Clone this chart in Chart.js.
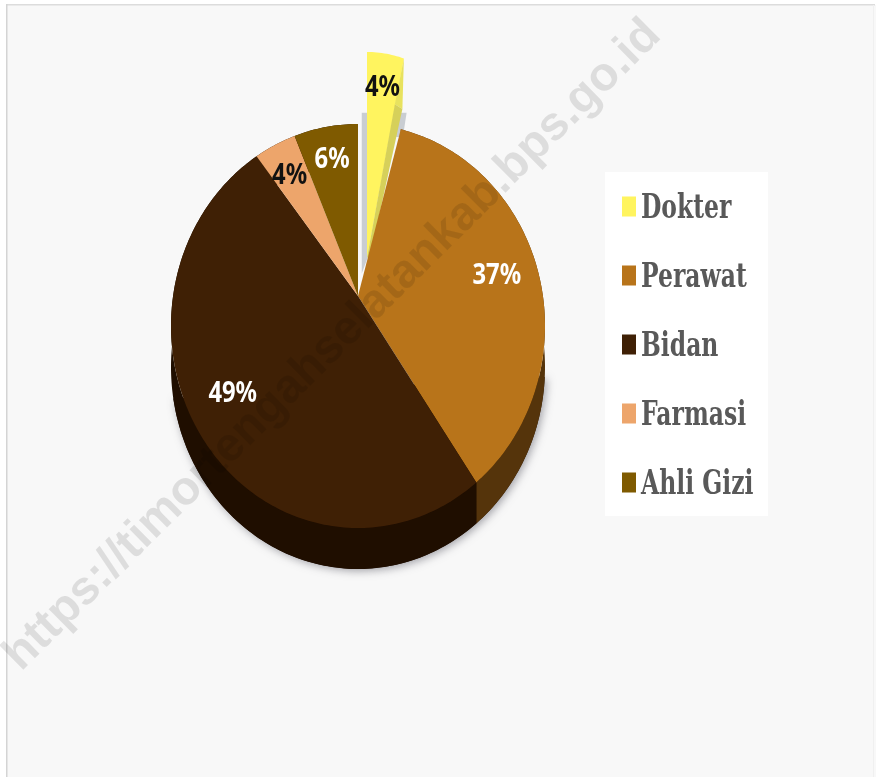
<!DOCTYPE html>
<html><head><meta charset="utf-8">
<style>html,body{margin:0;padding:0;background:#fff}canvas{display:block;filter:blur(0.5px)}</style>
<script src="https://cdn.jsdelivr.net/npm/chart.js@4/dist/chart.umd.min.js"></script>
</head><body><canvas id="c" width="879" height="777"></canvas>
<script>
const categories = ['Dokter','Perawat','Bidan','Farmasi','Ahli Gizi'];
const values = [4,37,49,4,6];
const faceColors = ['#fff45f','#b8741a','#3f2005','#eda56b','#7f5a00'];
const sideColors = ['#d6d05a','#55340b','#1f0e00','#1f0e00','#1f0e00'];
const labelColors = ['#111','#fff','#fff','#111','#fff'];
const labelRadius = [0.835,0.75,0.85,0.74,0.74];
const labelTurnDeg = [0,0.8,-3.8,-0.8,0];
const explodedSlice = [true,false,false,false,false];
const watermark = 'https://timortengahselatankab.bps.go.id';

// Perspective of the tilted pie, relative to the library's computed radius
const ELL_RY = 202/187, ELL_DY = 30/187, DEPTH = 41/187;
const EX_DX = 9/187, EX_DY = -38/187, EX_R = 206/187, EX_SQ = 0.72;

function outerPoint(el, th){ // th: clockwise from up
  const r = el.outerRadius, rx = r, ry = r*ELL_RY, off = r*ELL_DY;
  const dx = Math.sin(th), dy = -Math.cos(th);
  const a = dx*dx/(rx*rx) + dy*dy/(ry*ry);
  const b = 2*dy*(-off)/(ry*ry);
  const c = off*off/(ry*ry) - 1;
  const t = (-b + Math.sqrt(b*b - 4*a*c))/(2*a);
  return {x: el.x + t*dx, y: el.y + t*dy};
}
function wedgePoint(el, th, k){
  const r = el.outerRadius;
  return {x: el.x + r*EX_DX + k*r*EX_R*Math.sin(th)*EX_SQ, y: el.y + r*EX_DY - k*r*EX_R*Math.cos(th)};
}
function angles(el){ return [el.startAngle + Math.PI/2, el.endAngle + Math.PI/2]; }
function arcPoints(el, fn){
  const [a,b] = angles(el); const n = Math.max(4, Math.ceil((b-a)/(Math.PI/180)));
  const p = []; for(let i=0;i<=n;i++) p.push(fn(a+(b-a)*i/n)); return p;
}
Chart.ArcElement.prototype.draw = function(ctx){
  const i = this.$context.dataIndex, r = this.outerRadius;
  ctx.save();
  ctx.fillStyle = this.options.backgroundColor;
  ctx.beginPath();
  if (explodedSlice[i]) {
    ctx.moveTo(this.x + r*EX_DX, this.y + r*EX_DY);
    arcPoints(this, t => wedgePoint(this, t, 1)).forEach(p => ctx.lineTo(p.x,p.y));
  } else {
    ctx.moveTo(this.x, this.y);
    arcPoints(this, t => outerPoint(this, t)).forEach(p => ctx.lineTo(p.x,p.y));
  }
  ctx.closePath(); ctx.fill();
  if (explodedSlice[i]) {
    const [,b] = angles(this);
    const P = wedgePoint(this, b, 1), Q = wedgePoint(this, b*0.98, 0.77);
    ctx.fillStyle = '#e8e25e';
    ctx.beginPath();
    ctx.moveTo(P.x,P.y); ctx.lineTo(P.x - r*0.008, P.y + r*0.27);
    ctx.lineTo(Q.x,Q.y); ctx.closePath(); ctx.fill();
    ctx.fillStyle = sideColors[i];
    const A = {x:this.x + r*EX_DX, y:this.y + r*EX_DY};
    ctx.beginPath();
    ctx.moveTo(P.x - r*0.008, P.y + r*0.27);
    ctx.lineTo(A.x + r*0.02, A.y - r*0.02);
    ctx.lineTo(A.x, A.y);
    ctx.lineTo(Q.x,Q.y); ctx.closePath(); ctx.fill();
  }
  ctx.restore();
};

const backdrop = { id:'backdrop', beforeDraw(chart){
  const c = chart.ctx, w = chart.width, h = chart.height;
  c.save();
  c.fillStyle = '#fff'; c.fillRect(0,0,w,h);
  c.fillStyle = '#f8f8f8'; c.fillRect(7,5,w-10,h-5);
  c.fillStyle = '#dcdcdc'; c.fillRect(6,4,w-10,1.5);
  c.fillStyle = '#d4d4d4'; c.fillRect(6,4,1.5,h-4);
  c.fillStyle = '#f0f0f0'; c.fillRect(w-6,5,1,h-5);
  c.fillStyle = '#fff'; c.fillRect(605,172,163,344);
  c.restore();
}};

const pieSides = { id:'pieSides', beforeDatasetsDraw(chart){
  const c = chart.ctx, els = chart.getDatasetMeta(0).data;
  const first = els[1], r = first.outerRadius, d = r*DEPTH;
  c.save();
  // soft drop shadow of the whole body
  c.shadowColor = 'rgba(90,90,100,0.55)'; c.shadowBlur = 8; c.shadowOffsetX = 2; c.shadowOffsetY = 2;
  c.fillStyle = '#1f0e00';
  c.beginPath();
  c.ellipse(first.x, first.y + r*ELL_DY + d, r, r*ELL_RY, 0, 0.05, Math.PI*0.95);
  c.closePath(); c.fill();
  c.shadowColor = 'transparent';
  // grey cast shadow of the pulled-out slice
  c.fillStyle = '#c9cdd2';
  c.beginPath();
  c.moveTo(first.x + r*0.02, first.y - r*0.98);
  c.lineTo(first.x + r*0.05, first.y - r*0.98);
  c.lineTo(first.x + r*0.05, first.y - r*0.2);
  c.lineTo(first.x + r*0.02, first.y - r*0.12);
  c.closePath(); c.fill();
  c.beginPath();
  c.moveTo(first.x + r*0.225, first.y - r*0.98);
  c.lineTo(first.x + r*0.26, first.y - r*0.98);
  c.lineTo(first.x + r*0.24, first.y - r*0.85);
  c.lineTo(first.x + r*0.2, first.y - r*0.85);
  c.closePath(); c.fill();
  // rim of each slice
  els.forEach((el,i)=>{
    if (explodedSlice[i]) return;
    const top = arcPoints(el, t => outerPoint(el,t));
    c.fillStyle = sideColors[i];
    c.beginPath();
    top.forEach((p,k)=> k ? c.lineTo(p.x,p.y) : c.moveTo(p.x,p.y));
    top.slice().reverse().forEach(p => c.lineTo(p.x,p.y+d));
    c.closePath(); c.fill();
  });
  c.restore();
}};

const sliceLabels = { id:'sliceLabels', afterDatasetsDraw(chart){
  const c = chart.ctx, els = chart.getDatasetMeta(0).data;
  c.save();
  c.textAlign='center'; c.textBaseline='middle';
  c.font = 'bold 29px "Noto Sans"';
  els.forEach((el,i)=>{
    const m = (el.startAngle+el.endAngle)/2 + Math.PI/2 + labelTurnDeg[i]*Math.PI/180, r = el.outerRadius;
    const p = explodedSlice[i]
      ? wedgePoint(el, m, labelRadius[i])
      : {x: el.x + labelRadius[i]*r*Math.sin(m), y: el.y - labelRadius[i]*r*Math.cos(m)};
    c.fillStyle = labelColors[i];
    const t = values[i]+'%';
    c.fillText(t, p.x, p.y, c.measureText(t).width*0.82);
  });
  c.restore();
}};

const serifLegend = { id:'serifLegend', afterDatasetsDraw(chart){
  const c = chart.ctx;
  c.save();
  c.textBaseline='middle'; c.textAlign='left';
  c.font = 'bold 34px "DejaVu Serif"';
  categories.forEach((name,i)=>{
    const y = 206.5 + i*69;
    c.fillStyle = faceColors[i];
    c.fillRect(622, y-10, 14, 20);
    c.fillStyle = '#595959';
    c.fillText(name, 641, y+3, c.measureText(name).width*0.69);
  });
  c.restore();
}};

const stamp = { id:'stamp', afterDraw(chart){
  const c = chart.ctx;
  c.save();
  c.translate(21,672); c.rotate(-44.7*Math.PI/180);
  c.font = 'bold 47.5px "Liberation Sans"';
  c.fillStyle = 'rgba(0,0,0,0.105)';
  c.textAlign='left'; c.textBaseline='alphabetic';
  c.fillText(watermark,0,0);
  c.restore();
}};

new Chart(document.getElementById('c'),{
  type:'pie',
  data:{labels:categories,datasets:[{data:values,backgroundColor:faceColors,borderWidth:0}]},
  options:{
    responsive:false,animation:false,
    layout:{padding:{left:171,right:334,top:50,bottom:235}},
    plugins:{legend:{display:false},tooltip:{enabled:false}}
  },
  plugins:[backdrop,pieSides,sliceLabels,serifLegend,stamp]
});
</script></body></html>
